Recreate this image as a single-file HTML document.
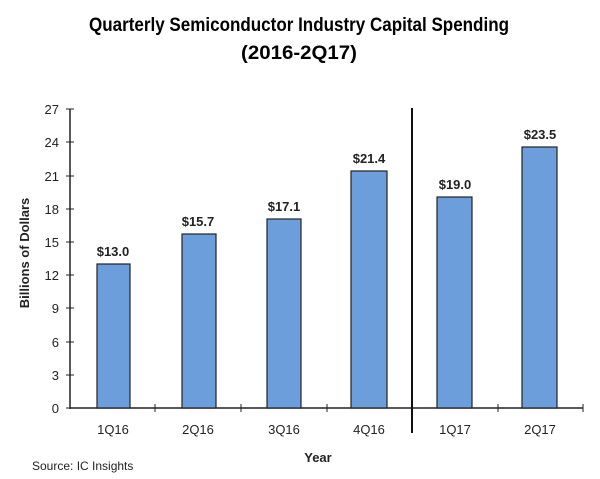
<!DOCTYPE html>
<html><head><meta charset="utf-8"><style>html,body{margin:0;padding:0;background:#fff}</style></head>
<body>
<svg width="600" height="474" xmlns="http://www.w3.org/2000/svg" font-family="Liberation Sans, sans-serif">
<text x="299" y="31" font-size="19" font-weight="bold" text-anchor="middle" textLength="420" lengthAdjust="spacingAndGlyphs">Quarterly Semiconductor Industry Capital Spending</text>
<text x="299" y="59" font-size="19" font-weight="bold" text-anchor="middle" textLength="116" lengthAdjust="spacingAndGlyphs">(2016-2Q17)</text>
<g stroke="#222" stroke-width="1.5">
<line x1="70" y1="109" x2="70" y2="409"/>
<line x1="70" y1="408" x2="583" y2="408"/>
</g>
<g stroke="#222" stroke-width="1">
<line x1="66" y1="109" x2="74" y2="109"/><line x1="66" y1="142" x2="74" y2="142"/><line x1="66" y1="176" x2="74" y2="176"/><line x1="66" y1="209" x2="74" y2="209"/><line x1="66" y1="242" x2="74" y2="242"/><line x1="66" y1="275" x2="74" y2="275"/><line x1="66" y1="308" x2="74" y2="308"/><line x1="66" y1="342" x2="74" y2="342"/><line x1="66" y1="375" x2="74" y2="375"/><line x1="66" y1="408" x2="74" y2="408"/>
<line x1="155" y1="404" x2="155" y2="412"/><line x1="241" y1="404" x2="241" y2="412"/><line x1="327" y1="404" x2="327" y2="412"/><line x1="498" y1="404" x2="498" y2="412"/><line x1="583" y1="404" x2="583" y2="412"/>
</g>
<line x1="412" y1="108" x2="412" y2="433" stroke="#111" stroke-width="2"/>
<g font-size="13" fill="#222" text-anchor="end">
<text x="59" y="114">27</text><text x="59" y="147">24</text><text x="59" y="181">21</text><text x="59" y="214">18</text><text x="59" y="247">15</text><text x="59" y="280">12</text><text x="59" y="313">9</text><text x="59" y="347">6</text><text x="59" y="380">3</text><text x="59" y="413">0</text>
</g>
<g fill="#6d9edc" stroke="#222" stroke-width="1.2">
<rect x="97" y="264" width="33" height="144"/>
<rect x="182" y="234" width="34" height="174"/>
<rect x="267" y="219" width="34" height="189"/>
<rect x="351" y="171" width="36" height="237"/>
<rect x="437" y="197" width="35" height="211"/>
<rect x="522" y="147" width="35" height="261"/>
</g>
<g font-size="13" font-weight="bold" fill="#222" text-anchor="middle">
<text x="113" y="256">$13.0</text><text x="198" y="226">$15.7</text><text x="284" y="211">$17.1</text><text x="369" y="163">$21.4</text><text x="455" y="189">$19.0</text><text x="540" y="139">$23.5</text>
</g>
<g font-size="13" fill="#222" text-anchor="middle">
<text x="113" y="434">1Q16</text><text x="198" y="434">2Q16</text><text x="284" y="434">3Q16</text><text x="369" y="434">4Q16</text><text x="455" y="434">1Q17</text><text x="540" y="434">2Q17</text>
</g>
<text x="318" y="462" font-size="13" font-weight="bold" fill="#222" text-anchor="middle">Year</text>
<text x="29" y="253" font-size="13" font-weight="bold" fill="#222" text-anchor="middle" transform="rotate(-90 29 253)">Billions of Dollars</text>
<text x="32" y="470" font-size="12" fill="#222">Source: IC Insights</text>
</svg>
</body></html>
